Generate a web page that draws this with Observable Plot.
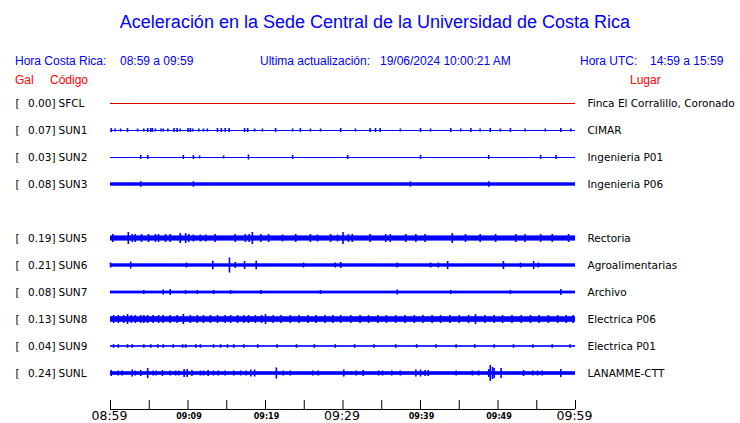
<!DOCTYPE html>
<html><head><meta charset="utf-8">
<script src="https://cdn.jsdelivr.net/npm/d3@7"></script>
<script src="https://cdn.jsdelivr.net/npm/@observablehq/plot@0.6"></script>
<style>
body{margin:0;background:#fff;}
#wrap{position:relative;width:740px;height:423px;overflow:hidden;background:#fff;}
.h{position:absolute;font-family:"Liberation Sans",Arial,sans-serif;white-space:pre;line-height:1;}
#plot{position:absolute;left:0;top:90px;}
</style></head><body><div id="wrap"><div id="plot"></div></div>
<script>
// ---- text ----
const title = "Aceleración en la Sede Central de la Universidad de Costa Rica";
const crLabel = "Hora Costa Rica:", crRange = "08:59 a 09:59";
const updLabel = "Ultima actualización:", updValue = "19/06/2024 10:00:21 AM";
const utcLabel = "Hora UTC:", utcRange = "14:59 a 15:59";
const colHeads = ["Gal", "Código", "Lugar"];

// ---- stations ----
const codes  = ["SFCL","SUN1","SUN2","SUN3","SUN5","SUN6","SUN7","SUN8","SUN9","SUNL"];
const slots  = [0, 1, 2, 3, 5, 6, 7, 8, 9, 10];
const peaks  = [0.00, 0.07, 0.03, 0.08, 0.19, 0.21, 0.08, 0.13, 0.04, 0.24];
const places = ["Finca El Corralillo, Coronado","CIMAR","Ingenieria P01","Ingenieria P06","Rectoria",
                "Agroalimentarias","Archivo","Electrica P06","Electrica P01","LANAMME-CTT"];
// half-width of the continuous noise band (trace counts)
const baseAmp = [0, 0, 0, 1.7, 2.6, 1.7, 1.4, 2.8, 0.8, 1.8];

// spikes: [minute after 08:59, half amplitude in trace counts]
const spikesSFCL = [];
const spikesSUN1 = [[0.1,2],[0.6,1.5],[1.3,1.5],[2.2,2],[3.5,1.5],[4.3,1.5],[4.8,2],[5.2,2],[5.4,2],[5.8,1.5],[6.5,1.5],[6.8,1.5],[7.4,1.5],[8.2,2],[8.6,2],[9.0,1.5],[10.0,2],[10.3,2],[10.6,1.5],[11.4,1.5],[12.0,1.5],[12.5,1.5],[13.8,2],[14.3,2],[14.8,2],[15.3,2],[17.3,2],[17.7,2],[18.6,1.5],[19.6,1.5],[21.3,2],[23.5,1.5],[24.5,2],[25.8,1.5],[27.1,1.5],[29.7,2],[31.6,1.5],[33.5,2],[34.2,2],[34.8,2],[37.4,1.5],[40.0,2],[41.3,1.5],[43.9,2],[45.2,1.5],[46.5,2],[47.7,1.5],[49.0,2],[50.3,1.5],[51.6,2],[53.5,1.5],[56.1,1.5],[58.1,2],[59.4,1.5]];
const spikesSUN2 = [[3.9,2],[4.8,2],[9.4,2],[10.7,2],[11.5,1.5],[14.6,1.5],[17.8,2.5],[23.5,2],[30.6,2],[40.0,2],[48.8,2],[55.5,2],[57.5,2]];
const spikesSUN3 = [[3.9,2.8],[10.7,2.8],[38.7,2.6],[48.8,2.8]];
const spikesSUN5 = [[0.3,4],[2.3,6],[2.8,4],[3.2,4],[4.0,4],[4.9,4],[5.8,4],[6.2,4],[7.1,4],[7.7,4],[9.0,5],[9.7,5],[10.1,4],[10.7,3.5],[11.6,3.5],[12.3,3.5],[13.5,4],[16.1,4],[17.4,4],[17.9,4],[18.3,6],[19.4,4],[20.4,4],[22.2,3.5],[23.9,4],[25.8,4],[26.7,3.5],[28.4,4],[29.3,3.5],[30.0,6],[30.7,4],[31.2,4],[33.5,4],[35.5,4],[36.1,4],[38.1,4],[39.4,4],[40.6,4],[44.1,5],[45.8,4],[47.7,4],[49.7,4],[52.3,4],[53.5,4],[55.5,4],[57.0,4],[59.1,4]];
const spikesSUN6 = [[0.0,2.5],[2.6,3.5],[9.8,2.5],[13.2,4.3],[15.35,7.5],[16.1,3],[17.3,4],[18.8,4.3],[24.9,2.5],[29.0,2.5],[29.7,3],[37.0,2.5],[41.3,2.5],[42.3,2.5],[43.5,4],[50.7,4],[52.9,2.5],[54.6,4],[55.2,2.5]];
const spikesSUN7 = [[4.3,2],[6.8,2.5],[7.7,3],[9.7,2],[11.2,2],[13.3,2],[15.5,2],[19.4,2],[27.1,2],[37.0,2.5],[43.9,2],[51.6,2],[58.1,3]];
const spikesSUN8 = [[0.4,4],[1.0,4],[1.7,4],[2.2,5],[2.7,4],[3.2,4],[3.9,4],[4.3,4],[4.8,4],[5.5,4],[6.2,4],[6.8,4],[7.7,4],[8.6,4],[9.4,5],[10.3,4],[11.2,4],[12.0,4],[12.9,4],[13.8,4],[14.8,4],[15.5,4],[16.4,4],[17.2,4],[17.8,4],[18.7,4],[19.5,4],[20.0,5],[21.0,4],[22.0,4],[23.2,4],[24.3,4],[25.5,4],[26.5,4],[27.7,4],[28.7,4],[29.7,4],[31.0,4],[32.2,4],[33.3,4],[34.5,4],[35.6,4],[36.8,4],[38.0,4],[39.2,4],[40.3,4],[41.5,4],[42.6,4],[43.8,4],[45.0,4],[46.2,4],[47.1,5],[48.3,4],[49.5,4],[50.6,4],[51.8,4],[53.0,4],[54.2,4],[55.3,4],[56.5,4],[57.7,4],[58.8,4],[59.7,4]];
const spikesSUN9 = [[0.4,1.8],[1.0,1.8],[2.2,1.8],[2.8,1.8],[4.3,1.8],[5.2,1.8],[6.1,1.8],[6.8,1.8],[8.1,1.8],[9.3,1.8],[9.7,1.8],[11.0,1.8],[11.6,1.8],[13.3,1.8],[14.2,1.8],[15.1,1.8],[15.9,1.8],[17.2,1.8],[19.0,1.8],[21.5,1.8],[24.0,1.8],[26.3,1.8],[29.0,1.8],[31.5,1.8],[34.0,1.8],[36.8,1.8],[39.5,1.8],[42.0,1.8],[44.6,1.8],[47.0,1.8],[49.5,1.8],[52.0,1.8],[54.5,1.8],[57.0,1.8],[59.3,1.8]];
const spikesSUNL = [[0.1,3],[1.0,2.5],[1.5,2.5],[2.8,3.5],[3.2,2.5],[3.9,3],[4.8,5],[5.5,2.5],[5.9,2.5],[6.7,3],[7.7,2.5],[8.4,2.5],[8.8,2.5],[9.5,4],[9.9,4],[10.5,3],[11.6,2.5],[12.0,2.5],[12.6,3],[13.3,2.5],[13.9,2.5],[14.8,2.5],[15.9,2.5],[16.8,2.5],[17.5,2.5],[18.1,3.5],[18.6,3.5],[21.4,5.5],[22.3,2.5],[23.2,2.5],[26.1,2.5],[26.8,2.5],[30.1,3.5],[31.0,2],[31.7,2.5],[32.6,3],[34.6,2.5],[35.1,2.5],[36.3,2.5],[37.4,2.5],[39.4,3.5],[40.0,3.5],[40.6,3],[41.0,3],[44.6,2.5],[46.7,2.5],[47.5,2.5],[48.8,4],[49.0,8],[49.3,6],[49.5,5],[50.4,5],[53.3,3],[54.5,2.5],[55.1,2.5],[55.7,2.5],[58.1,4]];
const spikeSets = [spikesSFCL,spikesSUN1,spikesSUN2,spikesSUN3,spikesSUN5,spikesSUN6,spikesSUN7,spikesSUN8,spikesSUN9,spikesSUNL];

// ---- time axis ----
const startUTC = Date.UTC(2024, 5, 19, 8, 59); // shown in Costa Rica local time
const spanMinutes = 60;
const tickStepMinutes = 5;
const tickLabels = ["08:59","09:09","09:19","09:29","09:39","09:49","09:59"];

// ---------------------------------------------------------------------
const T = m => new Date(startUTC + m * 60000);
const t0 = T(0), t1 = T(spanMinutes);
const gain = 1 / 27;            // trace counts -> row units
const traceColor = i => i === 0 ? "#dd0000" : "#0000ff";

const stations = codes.map((c, i) => ({code: c, row: slots[i], peak: peaks[i], place: places[i], base: baseAmp[i], color: traceColor(i)}));
const spikeRows = stations.flatMap((s, i) => spikeSets[i].map(([m, a]) => ({t: T(m), row: s.row, amp: a, color: s.color})));
const bands = stations.filter(s => s.base > 0);
const lines = stations.filter(s => s.base === 0);
const tickTimes = d3.range(0, spanMinutes + 1, tickStepMinutes).map(T);
const labelRows = tickLabels.map((l, i) => ({t: T(i * 10), label: l, big: i % 3 === 0}));
const axisRow = slots[slots.length - 1] + 4 / 3;

// header
const wrap = document.getElementById("wrap");
function addText(txt, left, top, size, color, extra = {}) {
  const d = document.createElement("div");
  d.className = "h"; d.textContent = txt;
  Object.assign(d.style, {left: left + "px", top: top + "px", fontSize: size + "px", color}, extra);
  wrap.appendChild(d);
}
addText(title, 0, 13, 18, "#0000ff", {width: "750px", textAlign: "center"});
addText(crLabel, 15, 55, 12, "#0000ff");
addText(crRange, 120, 55, 12, "#0000ff");
addText(updLabel, 260, 55, 12, "#0000ff");
addText(updValue, 380, 55, 12, "#0000ff");
addText(utcLabel, 580, 55, 12, "#0000ff");
addText(utcRange, 650, 55, 12, "#0000ff");
addText(colHeads[0], 15, 74, 12, "#ff0000");
addText(colHeads[1], 50, 74, 12, "#ff0000");
addText(colHeads[2], 630, 74, 12, "#ff0000");

const chart = Plot.plot({
  width: 740, height: 333,
  marginTop: 0, marginRight: 0, marginBottom: 0, marginLeft: 0,
  style: {fontFamily: "DejaVu Sans", fontSize: "10.5px", background: "white", color: "black"},
  x: {type: "utc", domain: [t0, t1], range: [110, 575], axis: null},
  y: {type: "linear", domain: [0, slots[slots.length - 1]], range: [13, 283], axis: null},
  marks: [
    Plot.ruleY(lines, {y: "row", x1: () => t0, x2: () => t1, stroke: "color", strokeWidth: 1}),
    Plot.rect(bands, {x1: () => t0, x2: () => t1, y1: d => d.row - d.base * gain, y2: d => d.row + d.base * gain, fill: "color"}),
    Plot.ruleX(spikeRows, {x: "t", y1: d => d.row - d.amp * gain, y2: d => d.row + d.amp * gain, stroke: "color", strokeWidth: 1.6}),
    // left labels
    Plot.text(stations, {y: "row", frameAnchor: "left", dx: 15, text: () => "[", textAnchor: "start", fill: "black"}),
    Plot.text(stations, {y: "row", frameAnchor: "left", dx: 55, text: d => d.peak.toFixed(2) + "]", textAnchor: "end", fill: "black"}),
    Plot.text(stations, {y: "row", frameAnchor: "left", dx: 58, text: "code", textAnchor: "start", fill: "black"}),
    Plot.text(stations, {y: "row", frameAnchor: "left", dx: 587, text: "place", textAnchor: "start", fill: "black"}),
    // time axis
    Plot.ruleY([axisRow], {x1: () => t0, x2: () => t1, stroke: "black", strokeWidth: 1}),
    Plot.ruleX(tickTimes, {x: d => d, y1: () => axisRow - 1/3, y2: () => axisRow, stroke: "black", strokeWidth: 1}),
    Plot.text(labelRows.filter(d => d.big), {x: "t", y: () => axisRow, dy: 6.5, dx: -1, text: "label", fontSize: 12.5, fill: "black"}),
    Plot.text(labelRows.filter(d => !d.big), {x: "t", y: () => axisRow, dy: 6.5, dx: 1, text: "label", fontSize: 8, fontWeight: "bold", fill: "black"})
  ]
});
document.getElementById("plot").appendChild(chart);
</script></body></html>
